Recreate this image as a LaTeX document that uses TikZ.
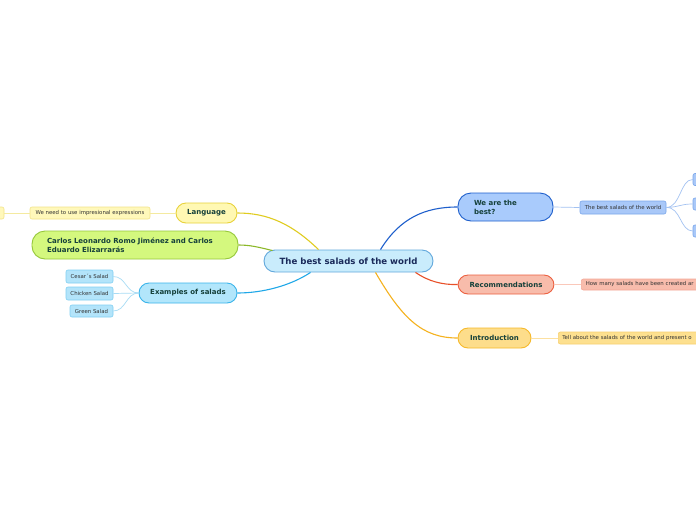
\documentclass[tikz,border=0pt]{standalone}
\usepackage{fontspec}
\setmainfont{DejaVu Sans}
\usetikzlibrary{calc}
\definecolor{cfill}{HTML}{C9ECFC}\definecolor{cdraw}{HTML}{62A8DC}\definecolor{ctext}{HTML}{1A2A5A}
\definecolor{mtext}{HTML}{15403A}\definecolor{ltext}{HTML}{333333}
\definecolor{wfill}{HTML}{A9CBFC}\definecolor{wdraw}{HTML}{1E5FCC}
\definecolor{tfill}{HTML}{A9C8F8}\definecolor{tdraw}{HTML}{7AA6EA}\definecolor{tline}{HTML}{A3C2F2}
\definecolor{rfill}{HTML}{F8BCAB}\definecolor{rdraw}{HTML}{EC6040}\definecolor{rline}{HTML}{E85028}
\definecolor{rlfill}{HTML}{F8BCAC}\definecolor{rldraw}{HTML}{F4A898}\definecolor{rlline}{HTML}{FAC8BA}
\definecolor{ifill}{HTML}{FDDD8B}\definecolor{idraw}{HTML}{F6B92A}\definecolor{iline}{HTML}{F5B21E}
\definecolor{ilfill}{HTML}{FDE08F}\definecolor{ildraw}{HTML}{F8D070}\definecolor{illine}{HTML}{FCE0A0}
\definecolor{lfill}{HTML}{FFF8B3}\definecolor{ldraw}{HTML}{E8D23A}\definecolor{lline}{HTML}{E0CC20}
\definecolor{llfill}{HTML}{FFF8BA}\definecolor{lldraw}{HTML}{F2E48A}\definecolor{llline}{HTML}{F4EAA0}
\definecolor{gfill}{HTML}{D4F87E}\definecolor{gdraw}{HTML}{96C83A}\definecolor{gline}{HTML}{8CB828}
\definecolor{efill}{HTML}{B2E6FB}\definecolor{edraw}{HTML}{3AB4EA}\definecolor{eline}{HTML}{20A8E8}
\definecolor{elfill}{HTML}{B3E4FA}\definecolor{eldraw}{HTML}{80D0F2}\definecolor{elline}{HTML}{A8DCF5}
\tikzset{
  mainbox/.style={draw, line width=0.9pt, rounded corners=10pt, inner sep=0pt, text=mtext,
     font=\fontsize{7}{9}\selectfont\bfseries, minimum height=20pt},
  leafbox/.style={draw, line width=0.6pt, rounded corners=2pt, inner sep=0pt, text=ltext,
     font=\fontsize{5.4}{6}\selectfont, minimum height=12pt},
  mainline/.style={line width=1.1pt},
  leafline/.style={line width=0.7pt},
}
\begin{document}
\begin{tikzpicture}[x=1pt,y=-1pt]
\useasboundingbox (0,0) rectangle (696,520);
\clip (0,0) rectangle (696,520);
\fill[white] (0,0) rectangle (696,520);
% central
\node[draw=cdraw, fill=cfill, line width=0.9pt, rounded corners=11pt, minimum width=169pt, minimum height=22pt,
  inner sep=0pt, text=ctext, font=\fontsize{8.6}{9}\selectfont\bfseries] (c) at (348.5,261) {The best salads of the world};
% main nodes
\node[mainbox, draw=wdraw, fill=wfill, minimum width=95pt, minimum height=28pt, rounded corners=13pt,
  text width=63pt, align=left] (w) at (505.5,207) {We are the\\best?};
\node[mainbox, draw=rdraw, fill=rfill, minimum width=96pt, minimum height=19pt] (r) at (506,284.5) {Recommendations};
\node[mainbox, draw=idraw, fill=ifill, minimum width=73pt] (i) at (494.5,338) {Introduction};
\node[mainbox, draw=ldraw, fill=lfill, minimum width=61pt] (l) at (206.5,213) {Language};
\node[mainbox, draw=gdraw, fill=gfill, minimum width=206pt, minimum height=28pt, rounded corners=13pt,
  text width=176pt, align=left] (g) at (135,245) {Carlos Leonardo Romo Jiménez and Carlos\\Eduardo Elizarrarás};
\node[mainbox, draw=edraw, fill=efill, minimum width=98pt] (e) at (188,293) {Examples of salads};
% leaves
\node[leafbox, draw=tdraw, fill=tfill, minimum width=86pt, minimum height=13pt] (t) at (623,207.5) {The best salads of the world};
\node[leafbox, draw=tdraw, fill=tfill, minimum width=30pt] (t1) at (708,179.5) {};
\node[leafbox, draw=tdraw, fill=tfill, minimum width=30pt] (t2) at (708,204) {};
\node[leafbox, draw=tdraw, fill=tfill, minimum width=30pt] (t3) at (708,231) {};
\node[leafbox, draw=rldraw, fill=rlfill, minimum height=11pt, anchor=west, text width=190pt, align=left,
  inner xsep=4.5pt] (rl) at (581,284.5) {How many salads have been created ar};
\node[leafbox, draw=ildraw, fill=ilfill, anchor=west, text width=190pt, align=left,
  inner xsep=4pt] (il) at (558,338) {Tell about the salads of the world and present o};
\node[leafbox, draw=lldraw, fill=llfill, minimum width=120pt] (ll) at (90,213) {We need to use impresional expressions};
\node[leafbox, draw=lldraw, fill=llfill, minimum width=30pt] (ll2) at (-11,213) {};
\node[leafbox, draw=eldraw, fill=elfill, minimum width=47pt, minimum height=13pt] (e1) at (89.5,276.5) {Cesar´s Salad};
\node[leafbox, draw=eldraw, fill=elfill, minimum width=47pt, minimum height=13pt] (e2) at (89.5,293.5) {Chicken Salad};
\node[leafbox, draw=eldraw, fill=elfill, minimum width=43pt] (e3) at (91.5,311) {Green Salad};
% main connectors
\draw[mainline, wdraw] ([xshift=32pt]c.north) .. controls (400,218) and (425,207) .. (w.west);
\draw[mainline, rline] ([xshift=67pt]c.south) .. controls (428,281) and (442,285) .. (r.west);
\draw[mainline, iline] ([xshift=27pt]c.south) .. controls (402,318) and (422,338) .. (i.west);
\draw[mainline, lline] ([xshift=-30pt]c.north) .. controls (292,224) and (268,213) .. (l.east);
\draw[mainline, gline] ([xshift=-76pt,yshift=-1pt]c.north) .. controls (258,247) and (250,245) .. (g.east);
\draw[mainline, eline] ([xshift=-38pt]c.south) .. controls (290,286) and (262,293) .. (e.east);
% leaf connectors
\draw[leafline, tline] (w.east) -- (t.west);
\draw[leafline, tline] (t.east) .. controls (681,207) and (680,179.5) .. (t1.west);
\draw[leafline, tline] (t.east) .. controls (680,207) and (680,204) .. (t2.west);
\draw[leafline, tline] (t.east) .. controls (681,207) and (680,231) .. (t3.west);
\draw[leafline, rlline] (r.east) -- (rl.west);
\draw[leafline, illine] (i.east) -- (il.west);
\draw[leafline, llline] (l.west) -- (ll.east);
\draw[leafline, llline] (ll.west) -- (ll2.east);
\draw[leafline, elline] (e.west) .. controls (126,293) and (126,276.5) .. (e1.east);
\draw[leafline, elline] (e.west) -- (e2.east);
\draw[leafline, elline] (e.west) .. controls (126,293) and (126,311) .. (e3.east);
\end{tikzpicture}
\end{document}
